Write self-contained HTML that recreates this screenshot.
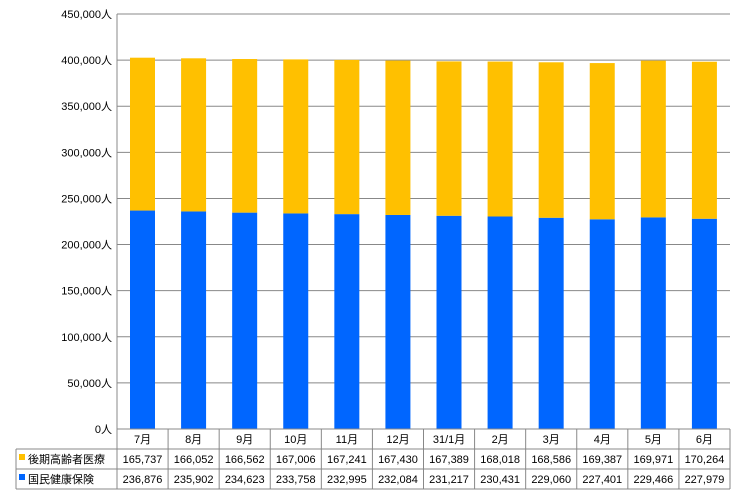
<!DOCTYPE html>
<html><head><meta charset="utf-8"><style>
body{margin:0;background:#fff;font-family:"Liberation Sans","Noto Sans CJK JP",sans-serif;}
svg text{font-size:11px;fill:#000;}
</style></head><body>
<svg width="740" height="499" id="c"></svg>
<script>
const categories=["7月","8月","9月","10月","11月","12月","31/1月","2月","3月","4月","5月","6月"];
const kouki=[165737,166052,166562,167006,167241,167430,167389,168018,168586,169387,169971,170264];
const kokuho=[236876,235902,234623,233758,232995,232084,231217,230431,229060,227401,229466,227979];
const ticks=[0,50000,100000,150000,200000,250000,300000,350000,400000,450000];
const seriesNames=["後期高齢者医療","国民健康保険"];
const NS="http://www.w3.org/2000/svg",svg=document.getElementById('c');
const L=117,R=730,T=14,B=429,cw=(R-L)/categories.length;
const y=v=>B-(v/450000)*(B-T);
const x=i=>L+i*cw;
function el(t,a,txt){const e=document.createElementNS(NS,t);for(const k in a)e.setAttribute(k,a[k]);if(txt!=null)e.textContent=txt;svg.appendChild(e);return e;}
ticks.forEach(v=>{
 const g=el('line',{x1:L,x2:R,y1:y(v),y2:y(v),stroke:'#888','stroke-width':1});
 
 
 const t=el('text',{x:L-5,y:y(v)+4,'text-anchor':'end'},v.toLocaleString('en-US')+'人');
 
 
});
const ax=el('line',{x1:L,x2:L,y1:T,y2:B,stroke:'#888'});


categories.forEach((c,i)=>{
 const bx=x(i)+13,bw=25;
 const b1=el('rect',{x:bx,y:y(kokuho[i]),width:bw,height:B-y(kokuho[i]),fill:'#0066ff'});
 
 
 const top=kokuho[i]+kouki[i];
 const b2=el('rect',{x:bx,y:y(top),width:bw,height:y(kokuho[i])-y(top),fill:'#ffc000'});
 
 
});
// table
const rows=[429,449,469,489];
[[L,R,429],[16,R,449],[16,R,469],[16,R,489]].forEach(r=>{const l=el('line',{x1:r[0],x2:r[1],y1:r[2],y2:r[2],stroke:'#888'});});
const lv=el('line',{x1:16,x2:16,y1:449,y2:489,stroke:'#888'});


for(let i=0;i<=categories.length;i++){const l=el('line',{x1:x(i),x2:x(i),y1:429,y2:489,stroke:'#888'});}
categories.forEach((c,i)=>{
 const cx=x(i)+cw/2;
 const h=el('text',{x:cx,y:443,'text-anchor':'middle'},c);
 
 
 const a=el('text',{x:cx,y:463,'text-anchor':'middle'},kouki[i].toLocaleString('en-US'));
 
 
 const b=el('text',{x:cx,y:483,'text-anchor':'middle'},kokuho[i].toLocaleString('en-US'));
 
 
});
[['#ffc000',459,seriesNames[0]],['#0066ff',479,seriesNames[1]]].forEach(s=>{
 const r=el('rect',{x:19,y:s[1]-5,width:6,height:6,fill:s[0]});
 
 
 const t=el('text',{x:28,y:s[1]+4},s[2]);
 
 
});
</script>
</body></html>
